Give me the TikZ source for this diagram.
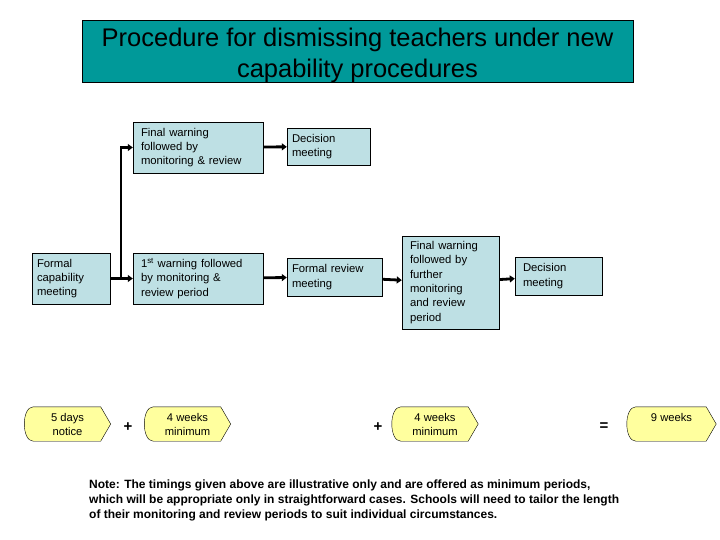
\documentclass[tikz,border=0pt]{standalone}
\usepackage{fontspec}
\setmainfont{Liberation Sans}
\usetikzlibrary{positioning,arrows.meta,calc,backgrounds}
\definecolor{titleteal}{HTML}{009999}
\definecolor{boxblue}{HTML}{BEE0E4}
\definecolor{timeyellow}{HTML}{FFFF9E}
\tikzset{
  pc box/.style={draw=black, fill=boxblue, align=left, inner xsep=5pt, inner ysep=2pt,
                 font=\fontsize{11.3}{14.3}\selectfont, anchor=center},
  pc title/.style={draw=black, fill=titleteal, align=center, font=\fontsize{25.5}{31}\selectfont,
                   minimum width=551pt, minimum height=62pt, inner sep=0pt,
                   text height=57pt, text depth=4.4pt},
  pc time/.style={align=center, font=\fontsize{11.2}{14}\selectfont, minimum width=86pt,
                  minimum height=34pt, inner sep=0pt},
  pc time edge/.style={draw=black, fill=timeyellow, thin},
  pc sign/.style={font=\fontsize{15}{15}\bfseries\selectfont, inner sep=0pt},
  pc arr/.style={-{Triangle[length=5pt,width=7pt]}, line width=2.8pt},
  pc note/.style={align=left, font=\fontsize{12}{14.6}\bfseries\selectfont, inner sep=0pt, anchor=north west},
}

\begin{document}
\begin{tikzpicture}[x=1pt, y=-1pt]
  \useasboundingbox (0,0) rectangle (720,540);
  % heading
  \node[pc title] (title) at (357.5,51) {Procedure for dismissing teachers under new\\capability procedures};
  % stages
  \node[pc box, text width=68pt, minimum height=51pt] (fcm) at (71,278.5) {Formal\\capability\\meeting};
  \node[pc box, text width=114pt, minimum height=51pt, inner xsep=8pt] (fw1) at (198,147.5) {Final warning\\followed by\\monitoring \& review};
  \node[pc box, text width=73pt, minimum height=37pt] (dm1) at (328.5,146.5) {Decision\\meeting};
  \node[pc box, text width=114pt, minimum height=51pt, inner xsep=8pt] (w1) at (198,278.5) {1\textsuperscript{st} warning followed\\by monitoring \&\\review period};
  \node[pc box, text width=85pt, minimum height=38pt] (frm) at (334.5,277) {Formal review\\meeting};
  \node[pc box, text width=81pt, minimum height=93pt, inner xsep=8pt] (fw2) at (450.5,282.5) {Final warning\\followed by\\further\\monitoring\\and review\\period};
  \node[pc box, text width=71pt, minimum height=38pt, inner xsep=8pt] (dm2) at (558.5,276) {Decision\\meeting};
  \coordinate (split) at (121,278.5);
  \draw[pc arr] (fcm) -- (w1);
  \draw[pc arr, line width=2.2pt] (split) |- (fw1.west);
  \foreach \a/\b in {fw1/dm1,w1/frm,frm/fw2,fw2/dm2} \draw[pc arr] (\a) -- (\b);
  % timings
  \node[pc time] (t1) at (67.5,424) {5 days\\notice};
  \node[pc time] (t2) at (187.5,424) {4 weeks\\minimum};
  \node[pc time] (t3) at (435,424) {4 weeks\\minimum};
  \node[pc time, minimum width=89pt] (t4) at (671.5,424) {9 weeks\\~};
  \begin{scope}[on background layer]
  \foreach \t in {t1,t2,t3,t4}
    \path[pc time edge] ([xshift=9pt]\t.north west) -- ([xshift=-10pt]\t.north east) -- (\t.east)
      -- ([xshift=-10pt]\t.south east) -- ([xshift=9pt]\t.south west)
      .. controls ([xshift=-3pt]\t.south west) and ([xshift=-3pt]\t.north west) .. cycle;
  \end{scope}
  \node[pc sign] (plus1) at (128,427) {+};
  \node[pc sign] (plus2) at (378,427) {+};
  \node[pc sign] (eq) at (604,427) {=};
  % note
  \node[pc note] (note) at (89,480) {Note: The timings given above are illustrative only and are offered as minimum periods,\\which will be appropriate only in straightforward cases. Schools will need to tailor the length\\of their monitoring and review periods to suit individual circumstances.};
\end{tikzpicture}
\end{document}
